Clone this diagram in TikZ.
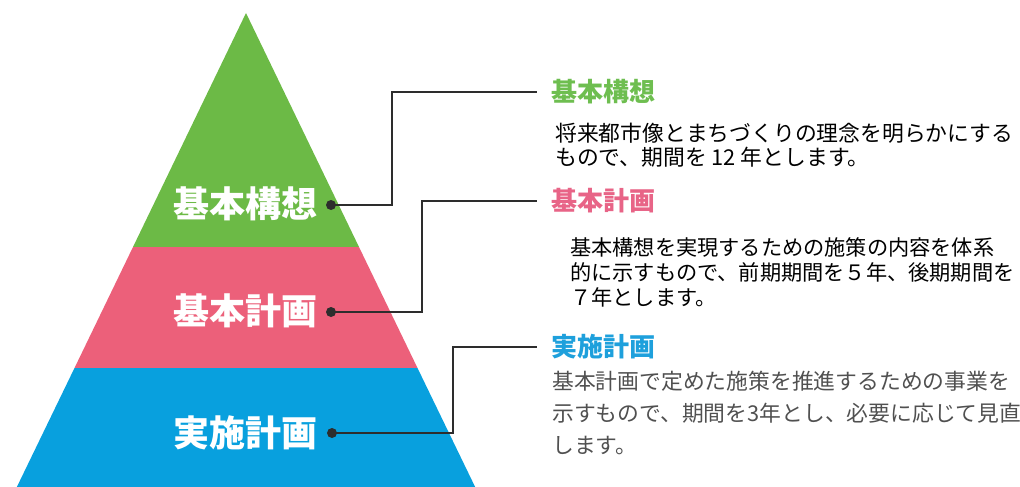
\documentclass[tikz,border=0pt]{standalone}
\usepackage{fontspec}
\newfontfamily\jp{Noto Sans CJK JP}
\definecolor{pgreen}{RGB}{108,186,70}
\definecolor{ppink}{RGB}{236,96,122}
\definecolor{pblue}{RGB}{8,160,222}
\definecolor{hgreen}{RGB}{110,190,80}
\definecolor{hpink}{RGB}{232,100,135}
\definecolor{hblue}{RGB}{30,160,220}
\definecolor{conn}{RGB}{45,45,45}
\definecolor{txtgray}{RGB}{80,80,80}
\tikzset{
  tierlabel/.style={text=white,font=\jp\bfseries\fontsize{36}{36}\selectfont,inner sep=0pt},
  heading/.style={anchor=west,font=\jp\bfseries\fontsize{26}{26}\selectfont,inner sep=0pt},
  body/.style={anchor=north west,align=left,inner sep=0pt,font=\jp\fontsize{21.8}{24}\selectfont},
  bodytwo/.style={anchor=north west,align=left,inner sep=0pt,font=\jp\fontsize{21.2}{25}\selectfont},
  bodygray/.style={anchor=north west,align=left,inner sep=0pt,text=txtgray,font=\jp\fontsize{21.8}{32}\selectfont},
  connector/.style={draw=conn,line width=2pt},
  dotmark/.style={circle,fill=conn,inner sep=0pt,minimum size=10pt}
}
\begin{document}
\begin{tikzpicture}[x=1pt,y=-1pt]
\useasboundingbox (0,0) rectangle (1020,487);
\begin{scope}
\clip (0,0) rectangle (1020,487);
% pyramid tiers (apex (246,13), slope 0.483)
\fill[pgreen] (246,13) -- (359,247) -- (133,247) -- cycle;
\fill[ppink] (133,247) -- (359,247) -- (417.5,368) -- (74.5,368) -- cycle;
\fill[pblue] (74.5,368) -- (417.5,368) -- (480,497) -- (12,497) -- cycle;
\end{scope}
% tier labels
\node[tierlabel] (t1) at (245,204) {基本構想};
\node[tierlabel] (t2) at (245,311) {基本計画};
\node[tierlabel] (t3) at (245,433) {実施計画};
% dots
\node[dotmark] (d1) at (331,205) {};
\node[dotmark] (d2) at (331,312) {};
\node[dotmark] (d3) at (332,433) {};
% connector ends
\coordinate (e1) at (537,92);
\coordinate (e2) at (537,201);
\coordinate (e3) at (537,347);
\draw[connector] (d1.center) -- (392,205) -- (392,92) -- (e1);
\draw[connector] (d2.center) -- (422,312) -- (422,201) -- (e2);
\draw[connector] (d3.center) -- (453,433) -- (453,347) -- (e3);
% headings
\node[heading,text=hgreen] (h1) at (551,92) {基本構想};
\node[heading,text=hpink] (h2) at (551,201) {基本計画};
\node[heading,text=hblue] (h3) at (551,347) {実施計画};
% bodies
\node[body] (b1) at (555,123) {将来都市像とまちづくりの理念を明らかにする\\もので、期間を 12 年とします。};
\node[bodytwo] (b2) at (570,237) {基本構想を実現するための施策の内容を体系\\的に示すもので、前期期間を５年、後期期間を\\７年とします。};
\node[bodygray] (b3) at (552,371) {基本計画で定めた施策を推進するための事業を\\示すもので、期間を3年とし、必要に応じて見直\\します。};
\end{tikzpicture}
\end{document}
